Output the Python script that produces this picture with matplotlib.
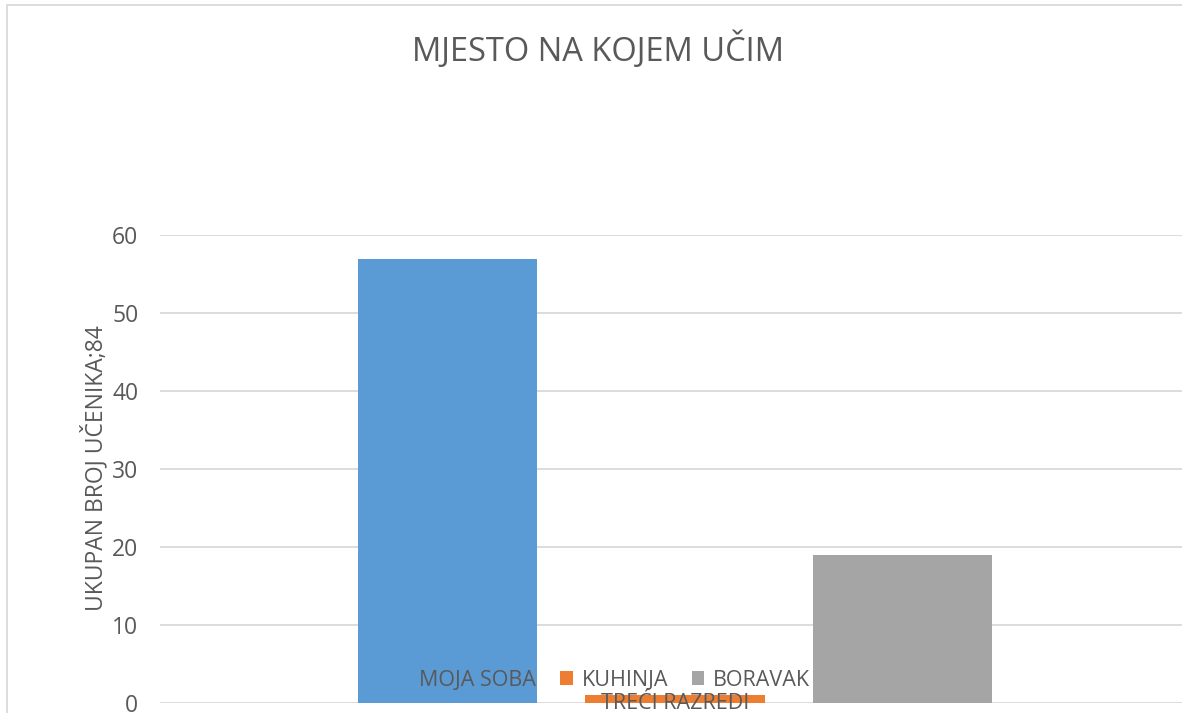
import matplotlib
matplotlib.use("Agg")
import matplotlib.pyplot as plt
from matplotlib.patches import Rectangle

categories = ["TREĆI RAZREDI"]
series_names = ["MOJA SOBA", "KUHINJA", "BORAVAK"]
series_values = [[57], [1], [19]]
series_colors = ["#5B9BD5", "#ED7D31", "#A5A5A5"]
yticks = [0, 10, 20, 30, 40, 50, 60]
title = "MJESTO NA KOJEM UČIM"
ylabel = "UKUPAN BROJ UČENIKA;84"

TXT = "#595959"
GRID = "#D9D9D9"
plt.rcParams['font.family'] = ['Open Sans', 'DejaVu Sans']

W, H = 1182, 713
fig = plt.figure(figsize=(W / 100, H / 100), dpi=100)
fig.patch.set_facecolor("white")

# chart border (partially cropped)
fig.patches.append(Rectangle((6.5 / W, -0.1), 1.2, (H - 5.5) / H + 0.1,
                             transform=fig.transFigure, fill=False,
                             edgecolor=GRID, linewidth=1.3))

ax = fig.add_axes([160 / W, 10 / H, 1030 / W, 468 / H])
ax.set_facecolor("none")
ax.set_axisbelow(True)

offsets = [-0.221, 0.0, 0.221]
bw = 0.174
for name, vals, col, off in zip(series_names, series_values, series_colors, offsets):
    ax.bar([i + off for i in range(len(categories))], vals, width=bw,
           color=col, label=name, zorder=2)

ax.set_xlim(-0.5, len(categories) - 0.5)
ax.set_ylim(0, 60.05)
ax.set_yticks(yticks)
ax.yaxis.grid(True, color=GRID, linewidth=1.3)
ax.set_xticks([])
for s in ax.spines.values():
    s.set_visible(False)
ax.tick_params(axis='y', length=0, pad=15.5, labelsize=16.5, labelcolor=TXT)

for i, c in enumerate(categories):
    ax.annotate(c, xy=(i, 0), xycoords=('data', 'axes fraction'),
                xytext=(0, 7.5), textcoords='offset points', ha='center', va='top',
                fontsize=15.5, color=TXT, zorder=6, annotation_clip=False)

fig.text(95 / W, 1 - 468 / H, ylabel, rotation=90, ha='center', va='center',
         fontsize=16.5, color=TXT)
fig.text(598 / W, 1 - 50 / H, title, ha='center', va='center',
         fontsize=23.5, color=TXT)

leg = fig.legend(loc='center', bbox_to_anchor=(604 / W, 1 - 680 / H),
                 bbox_transform=fig.transFigure, ncol=3, frameon=False,
                 handlelength=0.6, handleheight=0.6, handletextpad=0.4,
                 columnspacing=1.1, fontsize=15.5)
for t in leg.get_texts():
    t.set_color(TXT)
leg.set_zorder(5)

fig.savefig("out.png", dpi=100)
